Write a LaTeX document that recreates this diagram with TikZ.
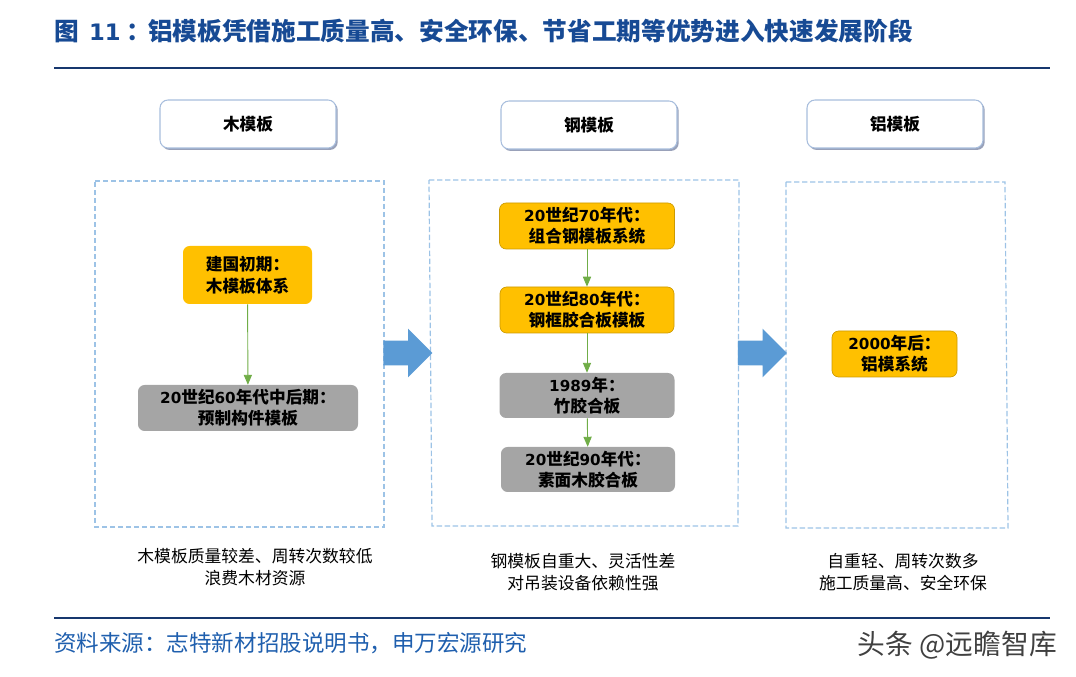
\documentclass[tikz,border=0pt]{standalone}
\usepackage{fontspec}
\setmainfont{Noto Sans CJK SC}
\newfontfamily\numfont{DejaVu Sans}
\newcommand{\nm}[1]{{\numfont\fontsize{11.4}{16}\selectfont #1}}
\usetikzlibrary{arrows,shadows,shapes.arrows}
\definecolor{titleblue}{HTML}{174A94}
\definecolor{sourceblue}{HTML}{1F5FAE}
\definecolor{rulenavy}{HTML}{17376E}
\definecolor{headline}{HTML}{A8BEDD}
\definecolor{headshadow}{HTML}{7F8AA8}
\definecolor{dashblue}{HTML}{9DC3E6}
\definecolor{arrowblue}{HTML}{5B9BD5}
\definecolor{linkgreen}{HTML}{70AD47}
\definecolor{stageorange}{HTML}{FFC000}
\definecolor{stagegray}{HTML}{A5A5A5}
\tikzset{
  headbox/.style={draw=headline,fill=white,rounded corners=6pt,line width=0.8pt,minimum width=132pt,minimum height=36pt,inner sep=0pt,
    drop shadow={shadow xshift=1.3pt,shadow yshift=-1.5pt,fill=headshadow,opacity=0.8},font=\fontsize{12.5}{16}\selectfont\bfseries},
  stagebox/.style={rounded corners=5pt,inner sep=0pt,align=center,font=\fontsize{12.5}{16}\selectfont\bfseries},
  orangebox/.style={stagebox,fill=stageorange},
  orangeline/.style={orangebox,draw=stageorange!80!black,line width=0.5pt},
  graybox/.style={stagebox,fill=stagegray},
  dashbox/.style={draw=dashblue,dashed,dash pattern=on 4pt off 2pt,line width=0.9pt},
  link/.style={draw=linkgreen,line width=0.7pt,-triangle 45},
  bigarrow/.style={single arrow,fill=arrowblue,anchor=tail,single arrow head extend=9pt,single arrow head indent=0pt,minimum height=36.75pt,inner xsep=0pt,inner ysep=9pt},
  caption/.style={align=center,inner sep=0pt,font=\fontsize{12.6}{16}\selectfont}
}
\begin{document}
\begin{tikzpicture}[x=0.75pt,y=-0.75pt]
\useasboundingbox (0,0) rectangle (1076,677);
\node [anchor=west,inner sep=0pt,text=titleblue,font=\fontsize{18.5}{22}\selectfont\bfseries] (title) at (54,31) {图\hspace{7.7pt}{\numfont\fontsize{17}{22}\selectfont\bfseries 11}\hspace{4pt}：\hspace{-2pt}铝模板凭借施工质量高、安全环保、节省工期等优势进入快速发展阶段};
\draw [rulenavy,line width=1.1pt] (54,68) --(1050,68);
\draw [rulenavy,line width=1.1pt] (54,618) --(1050,618);
\node [headbox] (woodhead) at (248,124) {木模板};
\node [headbox] (steelhead) at (589,125) {钢模板};
\node [headbox] (aluhead) at (895,124) {铝模板};
\draw [dashbox] (95,181) --(384,181) --(384,527) --(95,527) --cycle;
\draw [dashbox] (429,180) --(739,180) --(738,526) --(432,526) --cycle;
\draw [dashbox] (786,182) --(1005,182) --(1008,528) --(786,528) --cycle;
\node [orangebox,minimum width=96.75pt,minimum height=43.5pt] (wood1) at (247.5,275) {建国初期：\\木模板体系};
\node [graybox,minimum width=165pt,minimum height=34.5pt] (wood2) at (248,408) {\nm{20}世纪\nm{60}年代中后期：\\预制构件模板};
\node [orangeline,minimum width=131.25pt,minimum height=34.5pt] (steel1) at (587,226) {\nm{20}世纪\nm{70}年代：\\组合钢模板系统};
\node [orangeline,minimum width=130.5pt,minimum height=34.5pt] (steel2) at (587,310) {\nm{20}世纪\nm{80}年代：\\钢框胶合板模板};
\node [graybox,minimum width=131.25pt,minimum height=33.75pt] (steel3) at (587,395.5) {\nm{1989}年：\\竹胶合板};
\node [graybox,minimum width=130.5pt,minimum height=33.75pt] (steel4) at (588,469.5) {\nm{20}世纪\nm{90}年代：\\素面木胶合板};
\node [orangeline,minimum width=93.75pt,minimum height=34.5pt] (alu1) at (894.5,354) {\nm{2000}年后：\\铝模系统};
\draw [link] (wood1) --(wood2);
\draw [link] (steel1) --(steel2);
\draw [link] (steel2) --(steel3);
\draw [link] (steel3) --(steel4);
\node [bigarrow] (arrow1) at (383,353) {};
\node [bigarrow] (arrow2) at (737.5,353) {};
\node [caption] (woodnote) at (255,567) {木模板质量较差、周转次数较低\\浪费木材资源};
\node [caption] (steelnote) at (583,572) {钢模板自重大、灵活性差\\对吊装设备依赖性强};
\node [caption] (alunote) at (903,572) {自重轻、周转次数多\\施工质量高、安全环保};
\node [anchor=west,inner sep=0pt,text=sourceblue,font=\fontsize{16.9}{20}\selectfont] (source) at (54,643) {资料来源：志特新材招股说明书，申万宏源研究};
\node [anchor=east,inner sep=0pt,text=black!75,font=\fontsize{20.8}{24}\selectfont] (mark) at (1057,645) {头条 @远瞻智库};
\end{tikzpicture}
\end{document}
